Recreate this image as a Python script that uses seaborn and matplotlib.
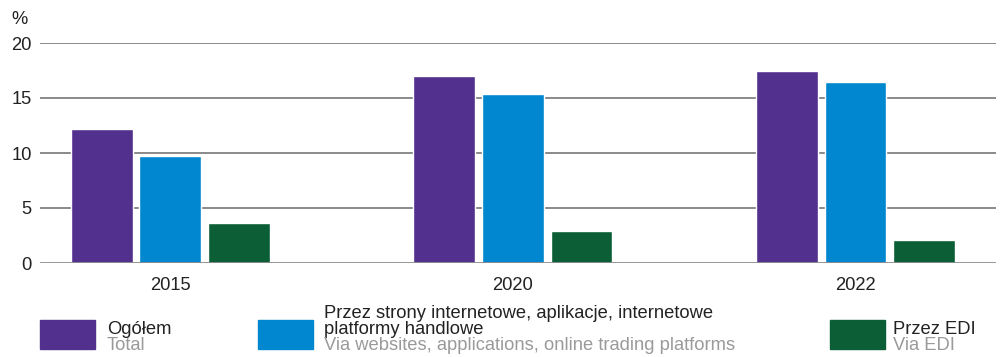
import pandas as pd
import matplotlib.pyplot as plt
import seaborn as sns
from matplotlib.patches import Rectangle

years = ['2015', '2020', '2022']
ogolem = [12.2, 17.0, 17.5]
strony = [9.7, 15.4, 16.5]
edi = [3.6, 2.9, 2.1]

series = ['Ogółem', 'Przez strony', 'Przez EDI']
colors = ['#51308e', '#0087cf', '#0b5e35']

df = pd.DataFrame({
    'rok': years * 3,
    'seria': [s for s in series for _ in years],
    'wartosc': ogolem + strony + edi,
})

sns.set_style('white')
plt.rcParams['font.family'] = ['Liberation Sans', 'DejaVu Sans']
fs = 13.2

fig = plt.figure(figsize=(10.04, 3.57), dpi=100)
ax = fig.add_axes([40 / 1004, 94 / 357, 956 / 1004, 220 / 357])

sns.barplot(data=df, x='rok', y='wartosc', hue='seria', palette=colors,
            width=0.6, gap=0.1, saturation=1, legend=False, ax=ax, zorder=3)

ax.set_xlim(-0.38, 2.41)
ax.set_ylim(0, 20)
ax.set_yticks([0, 5, 10, 15, 20])
for y in [5, 10, 15, 20]:
    ax.axhline(y, color='#6b6b6b', lw=1.1, zorder=1)
ax.axhline(0, color='#8c8c8c', lw=2, zorder=4)
for s in ax.spines.values():
    s.set_visible(False)
ax.tick_params(axis='both', length=0, labelsize=fs, colors='#222222')
ax.tick_params(axis='y', pad=6)
ax.tick_params(axis='x', pad=10)
ax.set_xlabel('')
ax.set_ylabel('')
fig.text(11 / 1004, 1 - 20 / 357, '%', fontsize=fs, color='#222222', va='center')

# legenda
legend_items = [
    (40, ['Ogółem'], 'Total', 107),
    (258, ['Przez strony internetowe, aplikacje, internetowe', 'platformy handlowe'],
     'Via websites, applications, online trading platforms', 324),
    (830, ['Przez EDI'], 'Via EDI', 893),
]
for (px, pl, en, tx), col in zip(legend_items, colors):
    fig.patches.append(Rectangle((px / 1004, 1 - 349 / 357), 55 / 1004, 29 / 357,
                                 transform=fig.transFigure, color=col))
    y0 = 1 - 329 / 357 if len(pl) == 1 else 1 - 313 / 357
    for i, line in enumerate(pl):
        fig.text(tx / 1004, y0 - i * 16.5 / 357, line, fontsize=fs,
                 color='#222222', va='center')
    fig.text(tx / 1004, y0 - len(pl) * 16.5 / 357, en, fontsize=fs,
             color='#9a9a9a', va='center')

fig.savefig('out.png', dpi=100)
